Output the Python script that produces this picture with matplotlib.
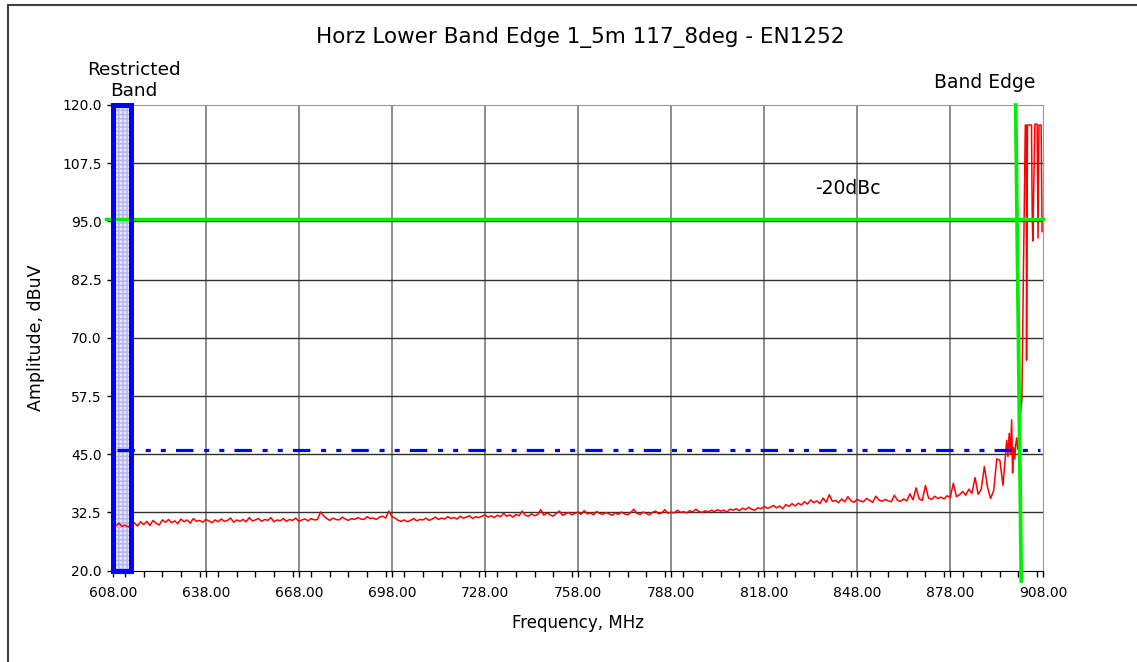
import numpy as np
import matplotlib
matplotlib.use("Agg")
import matplotlib.pyplot as plt
from matplotlib.patches import Rectangle
from matplotlib.ticker import MultipleLocator, FormatStrFormatter

# --- chart values ---
TITLE = "Horz Lower Band Edge 1_5m 117_8deg - EN1252"

# sweep, 1 MHz steps from 608 to 895 MHz (dBuV)
sweep_start = 608
sweep_amp = [
    30.0, 29.6, 30.2, 29.5, 29.8, 29.4, 29.9, 30.3, 29.6, 30.5,
    29.9, 30.6, 29.7, 30.8, 30.2, 29.8, 30.9, 30.4, 31.0, 30.3,
    30.7, 30.1, 31.1, 30.5, 30.9, 30.2, 31.2, 30.6, 30.8, 30.4,
    31.0, 30.7, 30.3, 30.9, 30.5, 31.1, 30.6, 30.8, 31.3, 30.4,
    30.9, 30.6, 31.0, 30.5, 31.4, 30.7, 30.9, 31.2, 30.6, 31.0,
    30.8, 31.4, 30.5, 30.9, 30.7, 31.2, 30.6, 31.0, 30.8, 31.3,
    30.6, 30.9, 31.1, 30.7, 31.2, 30.9, 31.0, 32.6, 31.8, 31.2,
    30.8, 31.3, 31.0, 30.9, 31.5, 31.1, 30.8, 31.2, 31.0, 31.4,
    31.1, 31.0, 31.6, 31.2, 31.3, 31.0, 31.5, 31.7, 31.3, 32.8,
    31.6, 31.3, 30.8, 30.6, 30.9, 30.5, 30.8, 31.2, 30.7, 31.0,
    30.9, 31.3, 30.8, 31.1, 31.5, 31.0, 31.3, 31.1, 31.6, 31.2,
    31.4, 31.1, 31.7, 31.3, 31.5, 31.8, 31.2, 31.6, 31.4, 31.7,
    32.0, 31.5, 31.8, 31.4, 31.9, 31.6, 32.3, 31.7, 32.0, 31.5,
    32.1, 31.8, 32.8, 31.9, 31.7, 32.2, 31.8, 32.1, 33.1, 31.9,
    32.4, 32.0, 31.7, 32.3, 32.8, 31.9, 32.2, 32.5, 32.0, 32.3,
    32.6, 32.1, 32.9, 32.2, 32.4, 32.0, 32.7, 32.3, 32.1, 32.5,
    32.2, 31.9, 32.4, 32.1, 32.6, 32.2, 32.0, 32.5, 33.2, 32.3,
    32.1, 32.6, 32.3, 32.0, 32.5, 32.8, 32.2, 32.4, 33.1, 32.3,
    32.6, 32.4, 33.0, 32.5, 32.7, 32.4, 32.9, 32.6, 33.2, 32.7,
    32.5, 32.9, 32.6, 33.0, 32.7, 33.1, 32.8, 33.0, 32.6, 33.2,
    33.0, 33.3, 32.9, 33.4, 33.1, 33.6, 33.2, 33.0, 33.5, 33.3,
    33.8, 33.4, 33.6, 34.0, 33.5, 33.9, 33.3, 34.2, 33.8, 34.4,
    33.9, 34.5, 34.1, 34.8, 34.3, 35.2, 34.6, 35.0, 34.4, 35.6,
    34.7, 36.3, 34.9, 35.1, 34.6, 35.4, 34.8, 35.9, 35.0, 34.7,
    35.3, 35.0, 34.8, 35.5, 35.1, 34.7, 36.0, 35.2, 34.9, 35.3,
    35.0, 34.8, 36.2, 35.1, 34.9, 35.4, 35.0, 36.5, 35.2, 37.8,
    35.4, 35.1, 38.3, 35.6, 35.3, 36.0, 35.5, 35.8, 35.4, 36.1,
    35.7, 38.8, 35.9, 36.3, 37.0, 36.2, 37.5, 36.6, 40.0, 36.4,
    37.5, 42.4, 38.0, 35.5, 37.2, 44.0, 43.7, 38.3,
]

# band edge part, finer steps
edge_freq = [896.2, 896.6, 897.0, 897.4, 897.8, 898.1, 898.4, 898.8, 899.1, 899.4,
             899.8, 900.2, 900.6, 901.1, 901.4, 902.2, 902.5, 902.6, 902.9, 904.2,
             904.4, 904.6, 905.3, 906.0, 906.3, 906.6, 907.3, 907.6, 908.0]
edge_amp = [48.0, 44.5, 49.5, 45.0, 52.4, 41.0, 46.5, 44.0, 47.0, 48.5,
            46.0, 50.5, 53.4, 56.7, 73.8, 115.7, 115.7, 65.2, 115.7, 115.7,
            97.8, 90.8, 115.9, 115.9, 91.4, 115.7, 115.7, 92.8, 92.8]

restricted_band = (608.0, 614.0)
limit_line = 46.0           # blue dash-dot
dbc_line = 95.5             # -20dBc
band_edge_top = (899.1, 120.0)
band_edge_bottom = (900.9, 17.8)

x_ticks = [608, 638, 668, 698, 728, 758, 788, 818, 848, 878, 908]
y_ticks = [20.0, 32.5, 45.0, 57.5, 70.0, 82.5, 95.0, 107.5, 120.0]
# --------------------

plt.rcParams['lines.scale_dashes'] = False

W, H = 1137, 662
fig = plt.figure(figsize=(W / 100, H / 100), dpi=100)
ax = fig.add_axes([112.7 / W, 1 - 570.7 / H, (1043.3 - 112.7) / W, (570.7 - 105) / H])

freq = np.concatenate([sweep_start + np.arange(len(sweep_amp)), edge_freq])
amp = np.concatenate([sweep_amp, edge_amp])

ax.set_xlim(608, 908)
ax.set_ylim(20, 120)

# grid
for x in x_ticks[1:-1]:
    ax.axvline(x, color='#6e6e6e', lw=1.1, zorder=1)
for y in y_ticks[1:-1]:
    ax.axhline(y, color='#303030', lw=1.0, zorder=1)

# restricted band box
x0, x1 = restricted_band
ax.add_patch(Rectangle((x0, 20), x1 - x0, 100, facecolor='#e6e6ff', edgecolor='#b4b4f5',
                       hatch='++++', lw=0, zorder=2))
ax.add_patch(Rectangle((x0, 20), x1 - x0, 100, facecolor='none', edgecolor='#0000ff',
                       lw=3.6, zorder=6, clip_on=False))

ax.plot(freq, amp, color='#ff0000', lw=1.1, zorder=3)

ax.plot([609.5, 906.8], [limit_line, limit_line], color='#0000ff', lw=2.3,
        linestyle=(0, (12.5, 7.8, 3.6, 7.3, 3.6, 7.3)), zorder=4, clip_on=False)
ax.plot([606.0, 908.0], [dbc_line, dbc_line], color='#00ee00', lw=2.5, zorder=5, clip_on=False)
ax.plot([band_edge_top[0], band_edge_bottom[0]], [band_edge_top[1], band_edge_bottom[1]],
        color='#00ee00', lw=2.7, zorder=5, clip_on=False)

# axes styling
ax.xaxis.set_minor_locator(MultipleLocator(6))
ax.set_xticks(x_ticks)
ax.set_yticks(y_ticks)
ax.xaxis.set_major_formatter(FormatStrFormatter('%.2f'))
ax.yaxis.set_major_formatter(FormatStrFormatter('%.1f'))
ax.tick_params(axis='both', direction='out', length=4, width=1, labelsize=10, pad=4)
ax.tick_params(axis='x', which='minor', direction='out', length=4, width=1)
ax.tick_params(axis='x', pad=7)
for s in ['top', 'right']:
    ax.spines[s].set_color('#9a9a9a')
for s in ['left', 'bottom']:
    ax.spines[s].set_color('black')

ax.set_xlabel('Frequency, MHz', fontsize=12, labelpad=10)
ax.set_ylabel('Amplitude, dBuV', fontsize=12.5, labelpad=12)

fig.text(580 / W, 1 - 38 / H, TITLE, ha='center', va='center', fontsize=15.5)
fig.text(134 / W, 1 - 100 / H, 'Restricted\nBand', ha='center', va='bottom',
         fontsize=13.3, linespacing=1.2)
fig.text(985 / W, 1 - 83 / H, 'Band Edge', ha='center', va='center', fontsize=13.5)
fig.text(848 / W, 1 - 188 / H, '-20dBc', ha='center', va='center', fontsize=13.5)

# outer frame (only left and top edges visible)
fig.patches.append(Rectangle((8 / W, -0.1), 1.2, 1.1 - 5 / H, transform=fig.transFigure,
                             fill=False, edgecolor='#404040', lw=1.5))

fig.savefig('out.png', dpi=100)
